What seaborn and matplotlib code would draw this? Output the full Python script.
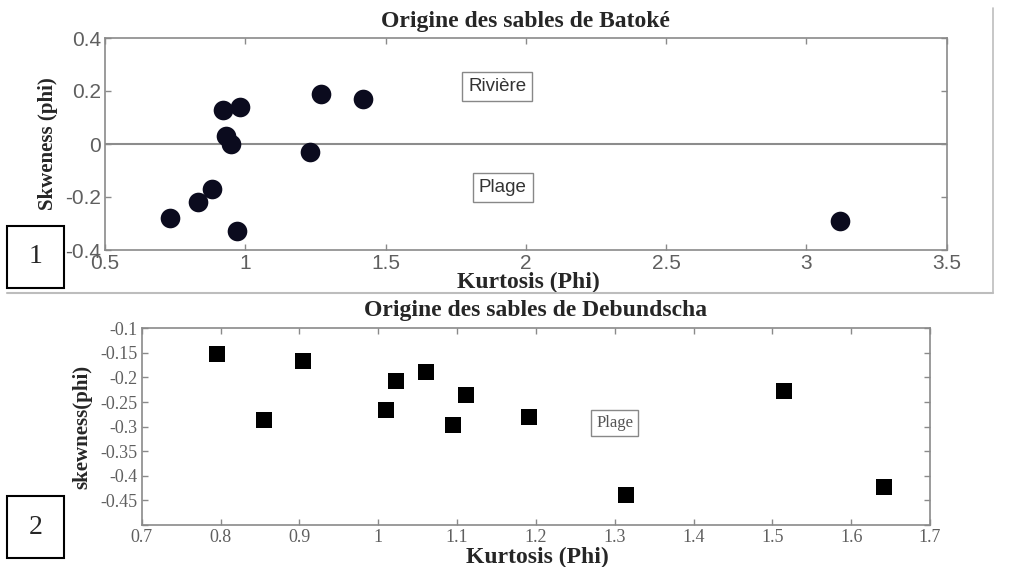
import matplotlib
matplotlib.use("Agg")
import matplotlib.pyplot as plt
import seaborn as sns
import pandas as pd
from matplotlib.patches import Rectangle
from matplotlib.lines import Line2D

sns.set_style("white")
plt.rcParams['font.family'] = ['Liberation Serif', 'DejaVu Serif']

# Panel 1: Batoké
batoke_kurtosis = [0.92, 0.98, 1.27, 1.42, 0.93, 0.95, 1.23, 0.88, 0.83, 0.73, 0.97, 3.12]
batoke_skewness = [0.13, 0.14, 0.19, 0.17, 0.03, 0.00, -0.03, -0.17, -0.22, -0.28, -0.33, -0.29]
batoke_xticks = [0.5, 1, 1.5, 2, 2.5, 3, 3.5]
batoke_xticklabels = ["0.5", "1", "1.5", "2", "2.5", "3", "3.5"]
batoke_yticks = [-0.4, -0.2, 0, 0.2, 0.4]
batoke_yticklabels = ["-0.4", "-0.2", "0", "0.2", "0.4"]

# Panel 2: Debundscha
deb_kurtosis = [0.795, 0.905, 0.855, 1.022, 1.061, 1.010, 1.112, 1.095, 1.191, 1.314, 1.515, 1.642]
deb_skewness = [-0.153, -0.167, -0.287, -0.207, -0.189, -0.267, -0.235, -0.296, -0.280, -0.440, -0.228, -0.422]
deb_xticks = [0.7, 0.8, 0.9, 1.0, 1.1, 1.2, 1.3, 1.4, 1.5, 1.6, 1.7]
deb_xticklabels = ["0.7", "0.8", "0.9", "1", "1.1", "1.2", "1.3", "1.4", "1.5", "1.6", "1.7"]
deb_yticks = [-0.5, -0.45, -0.4, -0.35, -0.3, -0.25, -0.2, -0.15, -0.1]
deb_yticklabels = ["", "-0.45", "-0.4", "-0.35", "-0.3", "-0.25", "-0.2", "-0.15", "-0.1"]

W, H = 1033, 567
fig = plt.figure(figsize=(W / 100, H / 100), dpi=100)
fig.patch.set_facecolor("white")

def fx(px):
    return px / W

def fy(py):
    return 1 - py / H

spine_col = "#8a8a8a"
tick_col = "#5f5f5f"
sans = ["Liberation Sans", "DejaVu Sans"]

# ---- Top axes
ax1 = fig.add_axes([fx(105), fy(250), fx(946.7 - 105), (250 - 38) / H])
df1 = pd.DataFrame({"k": batoke_kurtosis, "s": batoke_skewness})
ax1.axhline(0, color="#8c8c8c", lw=1.5, zorder=1)
sns.scatterplot(data=df1, x="k", y="s", ax=ax1, marker="o", s=200,
                color="#0b0b1e", edgecolor="#0b0b1e", linewidth=0, zorder=3, legend=False)
ax1.set_xlim(0.5, 3.5)
ax1.set_ylim(-0.4, 0.4)
ax1.set_xticks(batoke_xticks)
ax1.set_xticklabels(batoke_xticklabels, family=sans, fontsize=15, color=tick_col)
ax1.set_yticks(batoke_yticks)
ax1.set_yticklabels(batoke_yticklabels, family=sans, fontsize=15, color=tick_col)
ax1.set_title("Origine des sables de Batoké", fontsize=17, fontweight="bold", pad=8)
ax1.set_xlabel("Kurtosis (Phi)", fontsize=17, fontweight="bold")
ax1.set_ylabel("Skweness (phi)", fontsize=15, fontweight="bold")
ax1.xaxis.set_label_coords(0.503, -0.105)
ax1.yaxis.set_label_coords(-0.0558, 0.5)
ax1.text(1.898, 0.218, "Rivière", ha="center", va="center", fontsize=13.5,
         family=sans, color="#333333",
         bbox=dict(boxstyle="square,pad=0.33", facecolor="white", edgecolor="#888888", lw=1))
ax1.text(1.918, -0.165, "Plage", ha="center", va="center", fontsize=13.5,
         family=sans, color="#333333",
         bbox=dict(boxstyle="square,pad=0.33", facecolor="white", edgecolor="#888888", lw=1))

# ---- Bottom axes
ax2 = fig.add_axes([fx(141.7), fy(525), fx(930 - 141.7), (525 - 328.3) / H])
df2 = pd.DataFrame({"k": deb_kurtosis, "s": deb_skewness})
sns.scatterplot(data=df2, x="k", y="s", ax=ax2, marker="s", s=120,
                color="black", edgecolor="black", linewidth=0, zorder=3, legend=False)
ax2.set_xlim(0.7, 1.7)
ax2.set_ylim(-0.5, -0.1)
ax2.set_xticks(deb_xticks)
ax2.set_xticklabels(deb_xticklabels, fontsize=13, color=tick_col)
ax2.set_yticks(deb_yticks)
ax2.set_yticklabels(deb_yticklabels, fontsize=13, color=tick_col)
ax2.set_title("Origine des sables de Debundscha", fontsize=17, fontweight="bold", pad=9)
ax2.set_xlabel("Kurtosis (Phi)", fontsize=17, fontweight="bold")
ax2.set_ylabel("skewness(phi)", fontsize=15, fontweight="bold")
ax2.xaxis.set_label_coords(0.502, -0.112)
ax2.yaxis.set_label_coords(-0.063, 0.5)
ax2.text(1.3, -0.292, "Plage", ha="center", va="center", fontsize=12, color="#555555",
         bbox=dict(boxstyle="square,pad=0.3", facecolor="white", edgecolor="#888888", lw=1))

for ax in (ax1, ax2):
    for sp in ax.spines.values():
        sp.set_visible(True)
        sp.set_color(spine_col)
        sp.set_linewidth(1.2)
    ax.tick_params(direction="in", length=4, width=1, color=spine_col,
                   top=True, right=True, bottom=True, left=True, pad=3)
    ax.set_facecolor("white")

# outer frame lines of panel 1
fig.add_artist(Line2D([fx(7), fx(993)], [fy(293), fy(293)], color="#bdbdbd", lw=1.5))
fig.add_artist(Line2D([fx(993), fx(993)], [fy(8), fy(293)], color="#bdbdbd", lw=1.2))

# numbered boxes
for (x0, y0, x1, y1, lab) in [(7, 226, 64, 288, "1"), (7, 496, 64, 558, "2")]:
    fig.add_artist(Rectangle((fx(x0), fy(y1)), fx(x1 - x0), (y1 - y0) / H,
                             facecolor="white", edgecolor="black", lw=1.5, zorder=10))
    fig.text(fx((x0 + x1) / 2), fy((y0 + y1) / 2), lab, ha="center", va="center",
             fontsize=20, zorder=11)

fig.savefig("out.png", dpi=100, facecolor="white")
